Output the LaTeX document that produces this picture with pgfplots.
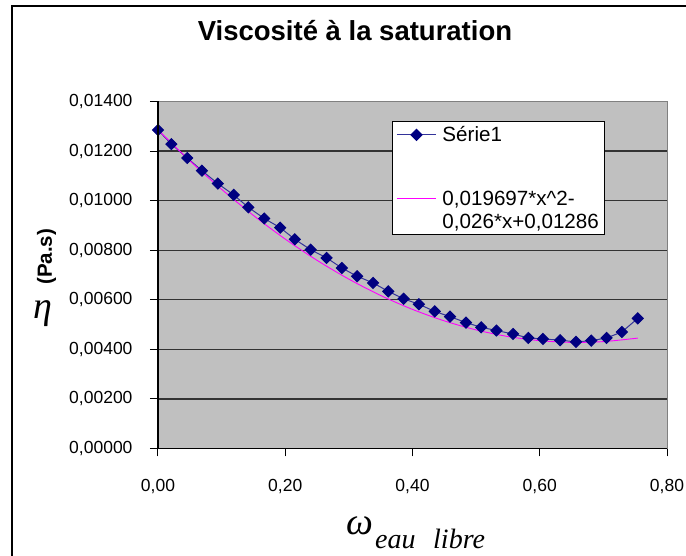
\documentclass[border=0pt]{standalone}
\usepackage{fontspec}
\setmainfont{Liberation Sans}
\newfontfamily\timesf{Liberation Serif}
\usepackage{pgfplots}
\pgfplotsset{compat=1.18}
\definecolor{plotgray}{HTML}{C0C0C0}
\definecolor{navyc}{HTML}{000080}
\definecolor{pinkc}{HTML}{FF00FF}
\pgfplotsset{trendlegend/.style={legend image code/.code={\draw[##1] (0bp,11.5bp) -- (39bp,11.5bp);}}}
\pgfplotstableread{
x y
0.000 0.01285
0.021 0.01228
0.046 0.01172
0.069 0.01121
0.094 0.01069
0.119 0.01023
0.142 0.00973
0.167 0.00928
0.192 0.00891
0.215 0.00844
0.240 0.00802
0.265 0.00769
0.289 0.00728
0.313 0.00695
0.338 0.00668
0.362 0.00634
0.386 0.00604
0.410 0.00582
0.435 0.00553
0.459 0.00532
0.484 0.00508
0.508 0.00489
0.532 0.00476
0.558 0.00462
0.582 0.00446
0.605 0.00442
0.632 0.00437
0.657 0.00430
0.681 0.00435
0.705 0.00446
0.729 0.00470
0.754 0.00525
}\serie
\pgfplotstableread{
x y
0.00 0.012860
0.05 0.011609
0.10 0.010457
0.15 0.009403
0.20 0.008448
0.25 0.007591
0.30 0.006833
0.35 0.006173
0.40 0.005612
0.45 0.005149
0.50 0.004784
0.55 0.004518
0.60 0.004351
0.65 0.004282
0.70 0.004312
0.754 0.004454
}\trend
\begin{document}
\begin{tikzpicture}[x=1bp,y=1bp]
\path[use as bounding box] (-158,-107.5) rectangle (528,448.5);
\fill[white] (-158,-107.5) rectangle (528,448.5);
\begin{axis}[
  at={(0,0)}, anchor=south west,
  scale only axis, width=509bp, height=347bp,
  xmin=0, xmax=0.8, ymin=0, ymax=0.014,
  xtick={0,0.2,0.4,0.6,0.8},
  ytick={0,0.002,0.004,0.006,0.008,0.010,0.012,0.014},
  axis background/.style={fill=plotgray},
  ymajorgrids, grid style={black!80, line width=1.2bp},
  axis line style={draw=black!50, line width=1bp},
  tick style={black, line width=1bp},
  tick align=outside, major tick length=8bp,
  xtick pos=left, ytick pos=left,
  scaled y ticks=false, scaled x ticks=false,
  /pgf/number format/assume math mode=true,
  yticklabel style={xshift=-14bp, /pgf/number format/.cd, fixed, fixed zerofill, precision=5, use comma},
  xticklabel style={yshift=-19bp, /pgf/number format/.cd, fixed, fixed zerofill, precision=2, use comma},
  ticklabel style={font=\fontsize{17.5bp}{21bp}\selectfont},
  legend cell align=left,
  legend image code/.code={\draw[mark repeat=2,mark phase=2,#1] plot coordinates {(0bp,0bp)(19.5bp,0bp)(39bp,0bp)};},
  legend style={at={(0.4597,0.9438)}, anchor=north west, draw=black, line width=1bp, fill=white,
    font=\fontsize{20.6bp}{22.5bp}\selectfont, inner xsep=4bp, inner ysep=3bp, row sep=44bp, column sep=4bp,
    cells={align=left}},
  clip=false,
]
\addplot[navyc!80!white, line width=1bp, mark=square*, mark size=3.9bp, mark options={fill=navyc, draw=navyc, rotate=45, solid}] table {\serie};
\addlegendentry{Série1}
\addplot[pinkc, line width=0.9bp, smooth, no marks, trendlegend] table {\trend};
\addlegendentry{0,019697*x\textasciicircum 2-\\0,026*x+0,01286}
\end{axis}
\draw[black, line width=1.2bp] (0,347) -- (0,0) -- (509,0);
\draw[line width=2bp] (-145.5,-107.5) -- (-145.5,442.5) -- (528,442.5);
\node[anchor=base, font=\bfseries\fontsize{27.5bp}{30bp}\selectfont] at (197,407.8) {Viscosité à la saturation};
\node[anchor=base, font=\timesf\itshape\fontsize{38bp}{40bp}\selectfont] at (-115,130) {η};
\node[rotate=90, font=\bfseries\fontsize{20.5bp}{22bp}\selectfont] at (-111.3,191.8) {(Pa.s)};
\node[anchor=base west, inner sep=0, font=\timesf\itshape\fontsize{38bp}{40bp}\selectfont] at (188.7,-86) {ω};
\node[anchor=base west, inner sep=0, font=\timesf\itshape\fontsize{28bp}{30bp}\selectfont] at (217,-99.8) {eau};
\node[anchor=base west, inner sep=0, font=\timesf\itshape\fontsize{28bp}{30bp}\selectfont] at (275,-99.8) {libre};
\end{tikzpicture}
\end{document}
